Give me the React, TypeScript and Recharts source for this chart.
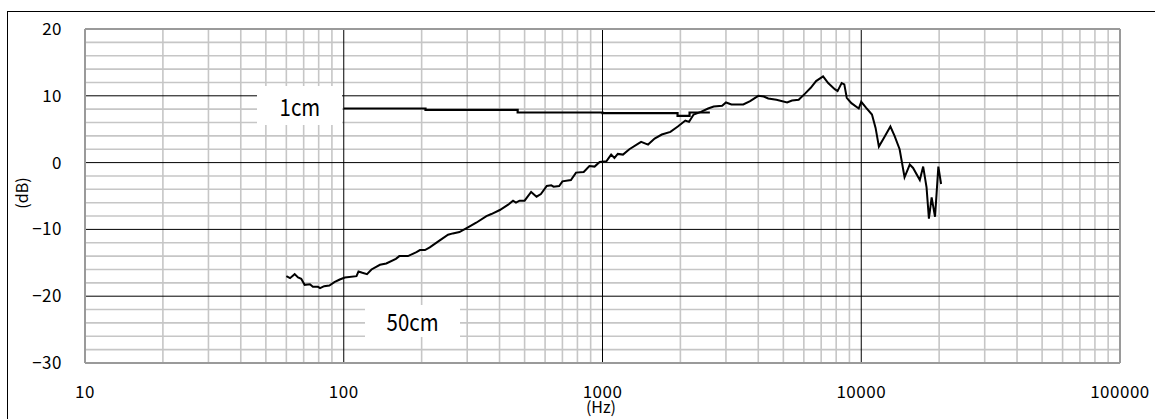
import { LineChart, Line, XAxis, YAxis, ReferenceLine } from "recharts";

// 50cm measurement (Hz / dB)
const freq50 = [
  60, 62, 64.6, 66.6, 68.5, 70.6, 74, 76, 79.5, 81, 84, 88, 92, 96.5, 101, 112, 114, 118, 123, 128,
  138, 146, 159, 164, 177, 191, 197, 206, 215, 232, 253, 264, 280, 302, 325, 356, 372, 401, 432, 451,
  463, 478, 500, 530, 556, 578, 609, 634, 647, 680, 700, 755, 790, 846, 890, 932, 975, 1035, 1080, 1112,
  1146, 1200, 1270, 1370, 1410, 1500, 1590, 1695, 1830, 1955, 2090, 2160, 2250, 2400, 2560, 2690, 2900, 3000, 3150, 3500,
  3720, 4000, 4200, 4370, 4700, 5170, 5400, 5730, 6090, 6380, 6690, 7120, 7450, 7900, 8100, 8400, 8600, 8790, 9160, 9780,
  10000, 10450, 11000, 11360, 11700, 12230, 12960, 13450, 14070, 14700, 15400, 15860, 16840, 17350, 17880, 18260, 18710, 19280, 19560, 19860,
  20350,
];
const db50 = [
  -17.0, -17.3, -16.7, -17.2, -17.4, -18.3, -18.2, -18.6, -18.6, -18.8, -18.5, -18.4, -17.9, -17.5, -17.2, -17.0, -16.3, -16.5, -16.7, -16.0,
  -15.3, -15.1, -14.4, -14.0, -14.0, -13.4, -13.1, -13.1, -12.7, -11.8, -10.8, -10.6, -10.4, -9.7, -9.0, -8.0, -7.7, -7.1, -6.3, -5.7,
  -6.0, -5.7, -5.7, -4.4, -5.1, -4.7, -3.5, -3.4, -3.6, -3.5, -2.8, -2.6, -1.5, -1.4, -0.5, -0.6, 0.1, 0.2, 1.2, 0.7,
  1.3, 1.2, 2.0, 2.8, 3.1, 2.7, 3.6, 4.2, 4.6, 5.4, 6.3, 6.1, 7.2, 7.6, 8.1, 8.4, 8.5, 9.0, 8.7, 8.7,
  9.2, 10.0, 9.9, 9.6, 9.4, 9.0, 9.3, 9.4, 10.4, 11.2, 12.2, 12.9, 11.9, 11.0, 10.7, 11.9, 11.7, 9.7, 8.9, 8.1,
  9.1, 8.2, 7.2, 5.2, 2.4, 3.7, 5.4, 4.0, 2.0, -2.2, -0.3, -0.8, -2.6, -0.6, -3.7, -8.4, -5.2, -8.1, -4.5, -0.6,
  -3.2,
];

// 1cm measurement (stepped)
const freq1 = [100, 207, 470, 1000, 1950, 2170, 2600];
const db1 = [8.1, 7.9, 7.5, 7.4, 7.0, 7.5, 7.5];

const xTicks = [10, 100, 1000, 10000, 100000];
const yTicks = [-30, -20, -10, 0, 10, 20];
const decades = [10, 100, 1000, 10000];
const multiples = [2, 3, 4, 5, 6, 7, 8, 9];
const dbMinor = [-28, -26, -24, -22, -18, -16, -14, -12, -8, -6, -4, -2, 2, 4, 6, 8, 12, 14, 16, 18];

const data50 = freq50.map((f, i) => ({ f, v: db50[i] }));
const data1 = freq1.map((f, i) => ({ f, v: db1[i] }));

const FONT = '"Noto Sans CJK JP", "Noto Sans", sans-serif';
const GRID = "#c6c6c6";
const BORDER = "#9a9a9a";

const fmtY = (v: number) => String(v).replace("-", "\u2212");

const tickStyle = { fill: "#000", fontSize: 17, fontFamily: FONT, letterSpacing: 0.5 };

const labelBox = (left: number, top: number, width: number, height: number) => ({
  position: "absolute" as const,
  left,
  top,
  width,
  height,
  background: "#fff",
  fontFamily: FONT,
  fontSize: 24,
  lineHeight: `${height}px`,
  textAlign: "center" as const,
});

export default function App() {
  const minorX = decades.flatMap((d) => multiples.map((m) => d * m));
  return (
    <div style={{ position: "fixed", left: 0, top: 0, width: 1155, height: 419, overflow: "hidden", background: "#fff" }}>
      <div style={{ position: "absolute", left: 0, top: 0 }}>
        <LineChart width={1155} height={419} margin={{ top: 29, right: 35, bottom: 26, left: 25 }}>
          <XAxis
            type="number"
            dataKey="f"
            scale="log"
            domain={[10, 100000]}
            ticks={xTicks}
            allowDataOverflow
            axisLine={false}
            tickLine={false}
            tickSize={0}
            tickMargin={23}
            height={30}
            tick={tickStyle}
          />
          <YAxis
            type="number"
            domain={[-30, 20]}
            ticks={yTicks}
            axisLine={false}
            tickLine={false}
            tickSize={0}
            tickMargin={23}
            width={60}
            tickFormatter={fmtY}
            tick={tickStyle}
          />
          {minorX.map((x) => (
            <ReferenceLine key={`vx${x}`} x={x} stroke={GRID} strokeWidth={1.6} />
          ))}
          {dbMinor.map((y) => (
            <ReferenceLine key={`hy${y}`} y={y} stroke={GRID} strokeWidth={1.6} />
          ))}
          {[100, 1000, 10000].map((x) => (
            <ReferenceLine key={`mx${x}`} x={x} stroke="#000" strokeWidth={1} />
          ))}
          {[-20, -10, 0, 10].map((y) => (
            <ReferenceLine key={`my${y}`} y={y} stroke="#000" strokeWidth={1} />
          ))}
          <ReferenceLine x={10} stroke={BORDER} strokeWidth={2} />
          <ReferenceLine x={100000} stroke={BORDER} strokeWidth={2} />
          <ReferenceLine y={20} stroke={BORDER} strokeWidth={2} />
          <ReferenceLine y={-30} stroke={BORDER} strokeWidth={2} />
          <Line
            data={data1}
            dataKey="v"
            type="stepAfter"
            stroke="#000"
            strokeWidth={2.2}
            dot={false}
            isAnimationActive={false}
          />
          <Line
            data={data50}
            dataKey="v"
            type="linear"
            stroke="#000"
            strokeWidth={2}
            dot={false}
            isAnimationActive={false}
          />
        </LineChart>
      </div>
      <div style={{ position: "absolute", left: 7, top: 11, width: 1148, height: 1, background: "#000" }} />
      <div style={{ position: "absolute", left: 7, top: 11, width: 1, height: 408, background: "#000" }} />
      <div style={labelBox(257, 86, 85, 39)}>
        <span style={{ display: "inline-block", transform: "scaleX(0.85)" }}>1cm</span>
      </div>
      <div style={labelBox(365, 305, 95, 32)}>
        <span style={{ display: "inline-block", transform: "scaleX(0.85)" }}>50cm</span>
      </div>
      <div
        style={{
          position: "absolute",
          left: 21,
          top: 193,
          transform: "translate(-50%, -50%) rotate(-90deg)",
          fontFamily: FONT,
          fontSize: 16,
          whiteSpace: "nowrap",
        }}
      >
        (dB)
      </div>
      <div
        style={{
          position: "absolute",
          left: 601,
          top: 406,
          transform: "translate(-50%, -50%)",
          fontFamily: FONT,
          fontSize: 16,
          whiteSpace: "nowrap",
        }}
      >
        (Hz)
      </div>
    </div>
  );
}
